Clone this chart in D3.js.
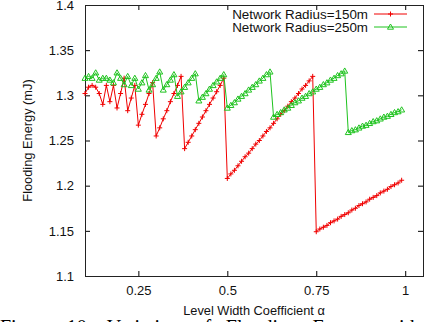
<!DOCTYPE html>
<html>
<head>
<meta charset="utf-8">
<script src="https://cdn.jsdelivr.net/npm/d3@7"></script>
<style>
	html, body { margin: 0; padding: 0; background: #fff; overflow: hidden; }
	svg { display: block; font-family: "Liberation Sans", Arial, sans-serif; }
</style>
</head>
<body>
<svg id="chart"></svg>
<script>
// level width coefficient (x)
const alpha = [
	0.10, 0.11, 0.12, 0.13, 0.14, 0.15, 0.16, 0.17, 0.18, 0.19,
	0.20, 0.21, 0.22, 0.23, 0.24, 0.25, 0.26, 0.27, 0.28, 0.29,
	0.30, 0.31, 0.32, 0.33, 0.34, 0.35, 0.36, 0.37, 0.38, 0.39,
	0.40, 0.41, 0.42, 0.43, 0.44, 0.45, 0.46, 0.47, 0.48, 0.49,
	0.50, 0.51, 0.52, 0.53, 0.54, 0.55, 0.56, 0.57, 0.58, 0.59,
	0.60, 0.61, 0.62, 0.63, 0.64, 0.65, 0.66, 0.67, 0.68, 0.69,
	0.70, 0.71, 0.72, 0.73, 0.74, 0.75, 0.76, 0.77, 0.78, 0.79,
	0.80, 0.81, 0.82, 0.83, 0.84, 0.85, 0.86, 0.87, 0.88, 0.89,
	0.90, 0.91, 0.92, 0.93, 0.94, 0.95, 0.96, 0.97, 0.98, 0.99,
];

// flooding energy (mJ), radius 150m
const energy150 = [
	1.302, 1.309, 1.311, 1.309, 1.302, 1.290, 1.311, 1.293, 1.311, 1.286,
	1.302, 1.319, 1.283, 1.297, 1.311, 1.267, 1.279, 1.290, 1.302, 1.314,
	1.255, 1.264, 1.274, 1.283, 1.293, 1.302, 1.311, 1.321, 1.241, 1.248,
	1.255, 1.262, 1.269, 1.276, 1.283, 1.290, 1.297, 1.304, 1.311, 1.319,
	1.208, 1.213, 1.217, 1.222, 1.227, 1.232, 1.236, 1.241, 1.246, 1.250,
	1.255, 1.260, 1.264, 1.269, 1.274, 1.279, 1.283, 1.288, 1.293, 1.297,
	1.302, 1.307, 1.311, 1.316, 1.321, 1.149, 1.152, 1.154, 1.156, 1.159,
	1.161, 1.163, 1.166, 1.168, 1.170, 1.173, 1.175, 1.178, 1.180, 1.182,
	1.185, 1.187, 1.189, 1.192, 1.194, 1.196, 1.199, 1.201, 1.203, 1.206,
];

// flooding energy (mJ), radius 250m
const energy250 = [
	1.319, 1.321, 1.319, 1.325, 1.317, 1.319, 1.319, 1.317, 1.314, 1.325,
	1.319, 1.312, 1.321, 1.311, 1.319, 1.307, 1.314, 1.322, 1.306, 1.312,
	1.319, 1.326, 1.306, 1.312, 1.317, 1.323, 1.299, 1.304, 1.309, 1.314,
	1.319, 1.324, 1.294, 1.298, 1.302, 1.307, 1.311, 1.315, 1.319, 1.323,
	1.286, 1.289, 1.292, 1.296, 1.299, 1.302, 1.306, 1.309, 1.312, 1.316,
	1.319, 1.323, 1.326, 1.276, 1.279, 1.281, 1.284, 1.286, 1.289, 1.292,
	1.294, 1.297, 1.299, 1.302, 1.304, 1.307, 1.309, 1.312, 1.314, 1.317,
	1.319, 1.322, 1.324, 1.327, 1.259, 1.261, 1.262, 1.264, 1.266, 1.267,
	1.269, 1.271, 1.272, 1.274, 1.276, 1.277, 1.279, 1.281, 1.282, 1.284,
];

const xTicks = [0.25, 0.5, 0.75, 1];
const yTicks = [1.1, 1.15, 1.2, 1.25, 1.3, 1.35, 1.4];
const seriesNames = ["Network Radius=150m", "Network Radius=250m"];
const captionWords = ["Figure", "10:", "Variation", "of", "Flooding", "Energy", "with"];

const width = 446;
const height = 322;
const mLeft = 85, mRight = 423, mTop = 5, mBottom = 276;
const tickLen = 5;

const svg = d3.select("#chart")
              .attr("width", width)
              .attr("height", height);

const xScale = d3.scaleLinear([0.1, 1.05], [mLeft, mRight]);
const yScale = d3.scaleLinear([1.1, 1.4], [mBottom, mTop]);

const series = [
	{ name: seriesNames[0], values: energy150, color: "#f00000", mark: "plus" },
	{ name: seriesNames[1], values: energy250, color: "#1ec31e", mark: "tri" },
];

// axes (gnuplot style: ticks inward, mirrored)
const fmt = d => String(d);
svg.append("g")
   .attr("transform", `translate(0, ${mBottom})`)
   .call(d3.axisBottom(xScale).tickValues(xTicks).tickFormat(fmt).tickSizeInner(-tickLen).tickSizeOuter(0).tickPadding(10))
   .call(g => g.select(".domain").remove())
   .call(g => g.selectAll(".tick text").attr("font-size", 13).attr("fill", "#111"));

svg.append("g")
   .attr("transform", `translate(0, ${mTop})`)
   .call(d3.axisTop(xScale).tickValues(xTicks).tickFormat("").tickSizeInner(-tickLen).tickSizeOuter(0))
   .call(g => g.select(".domain").remove());

svg.append("g")
   .attr("transform", `translate(${mLeft}, 0)`)
   .call(d3.axisLeft(yScale).tickValues(yTicks).tickFormat(fmt).tickSizeInner(-tickLen).tickSizeOuter(0).tickPadding(11))
   .call(g => g.select(".domain").remove())
   .call(g => g.selectAll(".tick text").attr("font-size", 13).attr("fill", "#111"));

svg.append("g")
   .attr("transform", `translate(${mRight}, 0)`)
   .call(d3.axisRight(yScale).tickValues(yTicks).tickFormat("").tickSizeInner(-tickLen).tickSizeOuter(0))
   .call(g => g.select(".domain").remove());

// frame
svg.append("rect")
   .attr("x", mLeft + 0.5)
   .attr("y", mTop + 0.5)
   .attr("width", mRight - mLeft)
   .attr("height", mBottom - mTop)
   .attr("fill", "none")
   .attr("stroke", "#222")
   .attr("stroke-width", 1);

// axis titles
svg.append("text")
   .attr("x", (mLeft + mRight) / 2)
   .attr("y", 315)
   .attr("text-anchor", "middle")
   .attr("font-size", 12.8)
   .attr("fill", "#111")
   .text("Level Width Coefficient \u03b1");

svg.append("text")
   .attr("transform", `translate(32, ${(mTop + mBottom) / 2}) rotate(-90)`)
   .attr("text-anchor", "middle")
   .attr("font-size", 12.8)
   .attr("fill", "#111")
   .text("Flooding Energy (mJ)");

function drawMark(g, mark, color) {
	if(mark === "plus") {
		g.append("path")
		 .attr("d", "M-2.5,0H2.5M0,-2.5V2.5")
		 .attr("stroke", color)
		 .attr("stroke-width", 1)
		 .attr("fill", "none");
	}
	else {
		g.append("path")
		 .attr("d", "M0,-3L3,2.2H-3Z")
		 .attr("stroke", color)
		 .attr("stroke-width", 1)
		 .attr("fill", "none");
	}
}

const line = d3.line()
               .x((d, i) => xScale(alpha[i]))
               .y(d => yScale(d));

for (const s of series) {
	svg.append("path")
	   .attr("d", line(s.values))
	   .attr("fill", "none")
	   .attr("stroke", s.color)
	   .attr("stroke-width", 1);

	svg.append("g")
	   .selectAll("g")
	   .data(s.values)
	   .join("g")
	   .attr("transform", (d, i) => `translate(${xScale(alpha[i])}, ${yScale(d)})`)
	   .each(function() { drawMark(d3.select(this), s.mark, s.color); });
}

// legend
const legend = svg.append("g");
series.forEach((s, i) => {
	const ly = 14 + i * 13;
	legend.append("text")
	      .attr("x", 368)
	      .attr("y", ly + 4.5)
	      .attr("text-anchor", "end")
	      .attr("font-size", 13.4)
	      .attr("fill", "#111")
	      .text(s.name);
	legend.append("line")
	      .attr("x1", 374).attr("x2", 407)
	      .attr("y1", ly).attr("y2", ly)
	      .attr("stroke", s.color);
	drawMark(legend.append("g").attr("transform", `translate(390.5, ${ly})`), s.mark, s.color);
});

// caption (cut off at the bottom of the picture)
const caption = svg.append("g")
                   .attr("font-family", "'Liberation Serif', 'Times New Roman', serif")
                   .attr("font-size", 20)
                   .attr("fill", "#000");
const words = caption.selectAll("text")
                     .data(captionWords)
                     .join("text")
                     .attr("y", 334)
                     .text(d => d);
const lens = words.nodes().map(n => n.getComputedTextLength());
const gap = (420 - d3.sum(lens)) / (captionWords.length - 1);
let cx = 0;
words.attr("x", (d, i) => { const x = cx; cx += lens[i] + gap; return x; });
</script>
</body>
</html>
